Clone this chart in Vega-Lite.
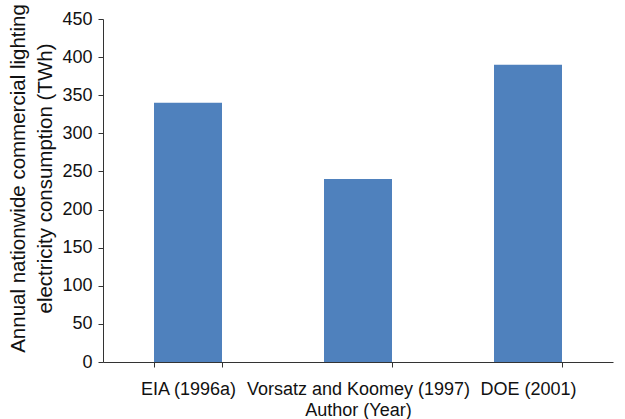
{
  "$schema": "https://vega.github.io/schema/vega-lite/v6.json",
  "width": 510,
  "height": 343,
  "autosize": {"type": "none"},
  "padding": {"left": 103, "top": 19, "right": 12, "bottom": 57},
  "background": "white",
  "config": {"view": {"stroke": null}, "font": "Liberation Sans"},
  "data": {"values": [
    {"author": "EIA (1996a)", "twh": 340},
    {"author": "Vorsatz and Koomey (1997)", "twh": 240},
    {"author": "DOE (2001)", "twh": 390}
  ]},
  "mark": {"type": "bar", "color": "#4f81bd"},
  "encoding": {
    "x": {
      "field": "author", "type": "nominal", "sort": null,
      "scale": {"paddingInner": 0.6, "paddingOuter": 0.3},
      "axis": {
        "title": "Author (Year)", "labelAngle": 0, "labelFontSize": 18, "titleFontSize": 18,
        "titleFontWeight": "normal", "labelColor": "#111", "titleColor": "#111",
        "domainColor": "#333", "tickColor": "#333", "tickBand": "extent", "tickSize": 5,
        "labelPadding": 13, "titlePadding": 3, "labelLimit": 0, "grid": false
      }
    },
    "y": {
      "field": "twh", "type": "quantitative",
      "scale": {"domain": [0, 450]},
      "axis": {
        "title": ["Annual nationwide commercial lighting", "electricity consumption (TWh)"],
        "values": [0, 50, 100, 150, 200, 250, 300, 350, 400, 450],
        "labelFontSize": 18, "titleFontSize": 20.5, "titleFontWeight": "normal",
        "titleLineHeight": 27, "titleY": 159,
        "labelColor": "#111", "titleColor": "#111", "domainColor": "#333", "tickColor": "#333",
        "tickSize": 5, "labelPadding": 6, "titlePadding": 6, "grid": false
      }
    }
  }
}
